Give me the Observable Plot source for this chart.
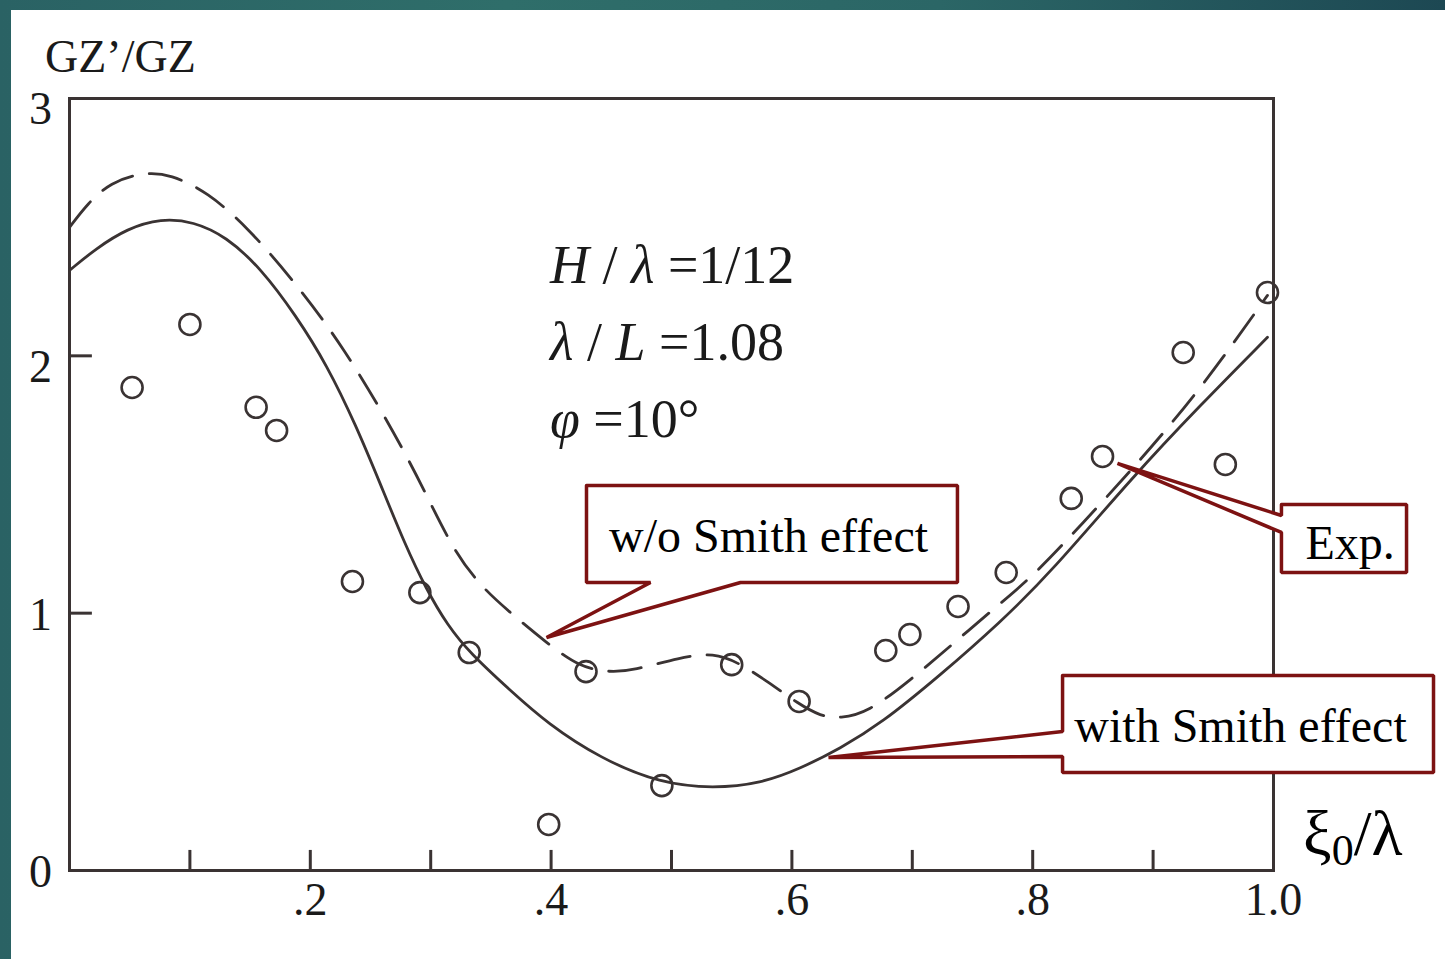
<!DOCTYPE html>
<html><head><meta charset="utf-8">
<script src="https://cdn.jsdelivr.net/npm/d3@7"></script>
<script src="https://cdn.jsdelivr.net/npm/@observablehq/plot@0.6"></script>
<style>
html,body{margin:0;padding:0;width:1445px;height:959px;overflow:hidden;}
body{background:linear-gradient(90deg,#2a6264 0%,#2f6e6a 35%,#2b6666 65%,#1d4853 100%);}
#panel{position:absolute;left:11px;top:10px;width:1434px;height:949px;background:#fff;}
</style></head><body><div id="panel"></div>
<script>
// Experimental points (Exp.)
const expX = [0.052, 0.100, 0.155, 0.172, 0.235, 0.291, 0.332, 0.398, 0.429, 0.492, 0.550, 0.606, 0.678, 0.698, 0.738, 0.778, 0.832, 0.858, 0.925, 0.960, 0.995];
const expY = [1.877, 2.122, 1.800, 1.710, 1.123, 1.080, 0.847, 0.179, 0.773, 0.330, 0.800, 0.657, 0.855, 0.917, 1.026, 1.158, 1.446, 1.609, 2.013, 1.578, 2.246];
// w/o Smith effect (dashed)
const woX = [0.000, 0.015, 0.034, 0.061, 0.084, 0.115, 0.148, 0.186, 0.228, 0.272, 0.296, 0.319, 0.341, 0.364, 0.397, 0.424, 0.449, 0.468, 0.507, 0.535, 0.557, 0.582, 0.605, 0.624, 0.640, 0.663, 0.698, 0.732, 0.773, 0.801, 0.842, 0.884, 0.939, 0.995];
const woY = [2.499, 2.592, 2.674, 2.713, 2.706, 2.635, 2.499, 2.293, 2.033, 1.683, 1.465, 1.244, 1.108, 1.010, 0.882, 0.789, 0.770, 0.777, 0.828, 0.847, 0.805, 0.727, 0.649, 0.599, 0.591, 0.614, 0.738, 0.874, 1.038, 1.147, 1.352, 1.566, 1.866, 2.235];
// with Smith effect (solid)
const wX = [0.000, 0.022, 0.048, 0.076, 0.103, 0.130, 0.159, 0.188, 0.214, 0.238, 0.258, 0.279, 0.296, 0.314, 0.333, 0.366, 0.397, 0.441, 0.491, 0.535, 0.574, 0.607, 0.640, 0.674, 0.723, 0.773, 0.815, 0.884, 0.939, 0.995];
const wY = [2.332, 2.417, 2.495, 2.534, 2.522, 2.464, 2.340, 2.157, 1.963, 1.729, 1.504, 1.263, 1.096, 0.952, 0.843, 0.700, 0.571, 0.435, 0.338, 0.319, 0.338, 0.396, 0.474, 0.571, 0.758, 0.964, 1.158, 1.535, 1.807, 2.072];
// ticks
const xTicks = [0.1,0.2,0.3,0.4,0.5,0.6,0.7,0.8,0.9];
const xTickLabels = [0.2,0.4,0.6,0.8,1.0];
const xTickText = [".2",".4",".6",".8","1.0"];
const yTicks = [1,2];
const yTickLabelsUpper = [2,3];
const yTickLabelsLower = [0,1];
// callouts (vertices in data units)
const calloutWo = {x:[0.4294,0.7375,0.7375,0.5573,0.3962,0.4826,0.4294,0.4294], y:[1.4963,1.4963,1.1193,1.1193,0.9056,1.1193,1.1193,1.4963]};
const calloutW = {x:[0.8248,1.1329,1.1329,0.8248,0.8248,0.6304,0.8248,0.8248], y:[0.7579,0.7579,0.3809,0.3809,0.4431,0.4392,0.5402,0.7579]};
const calloutExp = {x:[1.0066,1.1105,1.1105,1.0066,1.0066,0.8704,1.0066,1.0066], y:[1.4225,1.4225,1.1582,1.1582,1.3136,1.5818,1.3797,1.4225]};
const calloutLabels = ["w/o Smith effect","with Smith effect"];
const calloutLabelX = [0.5806, 0.9726];
const calloutLabelY = [1.298, 0.560];
const expLabel = "Exp.";
const expLabelX = 1.0266, expLabelY = 1.271;

const INK = "#3a3333", RED = "#7d1212", TXT = "#1a1a1a";
const SERIF = "'Liberation Serif','Times New Roman',serif";

const toRows = (xs, ys) => xs.map((x,i)=>({x, y: ys[i]}));
const polys = [calloutWo, calloutW, calloutExp].flatMap((p,k)=>p.x.map((x,i)=>({x, y:p.y[i], id:k})));

const plot = Plot.plot({
  width: 1434, height: 949,
  marginLeft: 58, marginRight: 172, marginTop: 88, marginBottom: 89,
  x: {domain:[0,1], axis:null},
  y: {domain:[0,3], axis:null},
  style: {background:"white", overflow:"visible", fontFamily: SERIF},
  marks: [
    Plot.line(toRows(woX, woY), {x:"x", y:"y", curve:"basis", stroke: INK, strokeWidth: 2.8, strokeDasharray:"33,17"}),
    Plot.line(toRows(wX, wY), {x:"x", y:"y", curve:"basis", stroke: INK, strokeWidth: 2.8}),
    Plot.dot(toRows(expX, expY), {x:"x", y:"y", r: 10.5, stroke: INK, strokeWidth: 2.6, fill:"none"}),
    Plot.frame({stroke: INK, strokeWidth: 3}),
    Plot.ruleX(xTicks, {x: d=>d, y1: 0, y2: 0.078, stroke: INK, strokeWidth: 3}),
    Plot.ruleY(yTicks, {y: d=>d, x1: 0, x2: 0.019, stroke: INK, strokeWidth: 3}),
    Plot.text(xTickLabels, {x: d=>d, y: 0, text: (d,i)=>xTickText[i], dy: 30, fontSize: 46, fill: TXT, fontFamily: SERIF}),
    Plot.text(yTickLabelsUpper, {x: 0, y: d=>d, text: d=>String(d), dx: -29, dy: 11, fontSize: 46, fill: TXT, fontFamily: SERIF}),
    Plot.text(yTickLabelsLower, {x: 0, y: d=>d, text: d=>String(d), dx: -29, dy: 2, fontSize: 46, fill: TXT, fontFamily: SERIF}),
    Plot.line(polys, {x:"x", y:"y", z:"id", fill:"white", stroke: RED, strokeWidth: 3.5, strokeLinejoin:"miter"}),
    Plot.text(calloutLabels, {x:(d,i)=>calloutLabelX[i], y:(d,i)=>calloutLabelY[i], text:d=>d, textAnchor:"middle", fontSize: 48, fill: "#000", fontFamily: SERIF}),
    Plot.text([expLabel], {x: expLabelX, y: expLabelY, text: d=>d, textAnchor:"start", fontSize: 48, fill: "#000", fontFamily: SERIF})
  ]
});
document.getElementById("panel").appendChild(plot);

// rich-text annotations placed through the plot scales
const sx = plot.scale("x"), sy = plot.scale("y");
const svg = d3.select(plot);
const annoLines = [
  {x:0.3995, y:2.281, parts:[["H","italic"],[" / ","normal"],["λ","italic"],[" =1/12","normal"]]},
  {x:0.3995, y:1.982, parts:[["λ","italic"],[" / ","normal"],["L","italic"],[" =1.08","normal"]]},
  {x:0.3995, y:1.683, parts:[["φ","italic"],[" =10°","normal"]]}
];
for (const a of annoLines) {
  const t = svg.append("text").attr("x", sx.apply(a.x)).attr("y", sy.apply(a.y))
    .attr("text-anchor","start").attr("font-family", SERIF).attr("font-size", 54)
    .attr("fill", TXT).attr("xml:space","preserve").style("white-space","pre");
  for (const [s, st] of a.parts) t.append("tspan").attr("font-style", st).text(s);
}
// axis titles
svg.append("text").attr("x", sx.apply(-0.0199)).attr("y", sy.apply(3.101))
  .attr("text-anchor","start").attr("font-family", SERIF).attr("font-size", 46).attr("fill", TXT).text("GZ’/GZ");
const xt = svg.append("text").attr("x", sx.apply(1.025)).attr("y", sy.apply(0.058))
  .attr("text-anchor","start").attr("font-family", SERIF).attr("font-size", 64).attr("fill", "#000");
xt.append("tspan").text("ξ");
xt.append("tspan").attr("font-size", 44).attr("dy", 10).text("0");
xt.append("tspan").attr("dy", -10).text("/λ");
</script>
</body></html>
